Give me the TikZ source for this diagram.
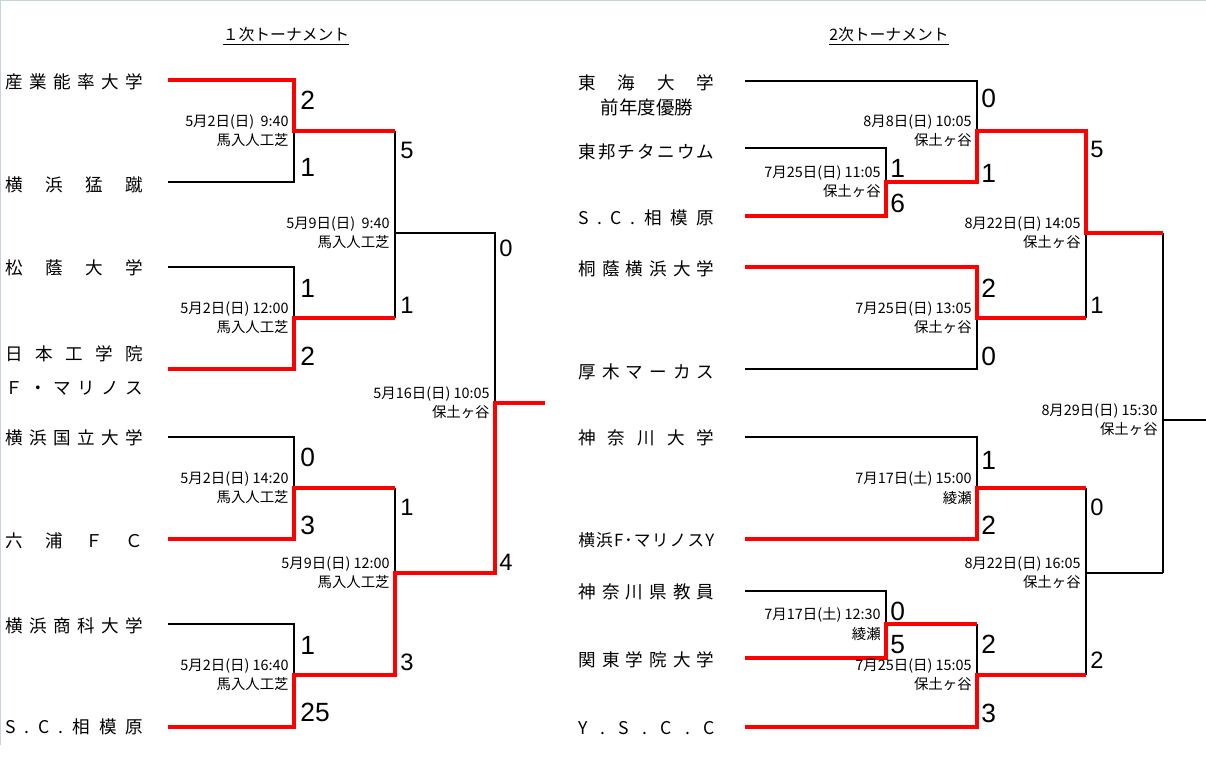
\documentclass[tikz,border=0pt]{standalone}
\usepackage{fontspec}
\setmainfont{Noto Sans CJK JP}
\newfontfamily\scorefont{Liberation Sans}
\usepackage{tikz}
\usetikzlibrary{calc}
\definecolor{framegray}{HTML}{C9D3E0}
\tikzset{lose/.style={draw, black, line width=0.6pt},
win/.style={draw, red, line width=1.9pt, line join=miter},
team/.style={anchor=west, inner sep=0pt, font=\fontsize{10}{12}\selectfont},
score/.style={anchor=west, inner sep=0pt, font=\scorefont\fontsize{13.5}{14}\selectfont},
bigscore/.style={anchor=west, inner sep=0pt, font=\scorefont\fontsize{15}{16}\selectfont},
when/.style={anchor=east, inner sep=0pt, align=right, xshift=-0.1cm, font=\fontsize{8.2}{11}\selectfont},
title/.style={inner sep=0pt, font=\fontsize{9}{10}\selectfont}}
\newcommand{\spread}[2][2.76cm]{\makebox[#1][s]{\spaceskip=0pt plus 1fil\relax #2}}

\begin{document}
\begin{tikzpicture}[x=0.02cm, y=-0.02cm]
    \useasboundingbox (0,0) rectangle (1206,765);
    % sheet frame
    \draw[framegray, line width=1pt] (0,0.5) -- (1206,0.5) (0.5,0) -- (0.5,745);

    % Titles
    \node[title] (title1) at (286,36) {\underline{１次トーナメント}};
    \node[title] (title2) at (889,36) {\underline{2次トーナメント}};

    % Teams of the first tournament
    \node[team] (t1) at (5,82) {\spread{産 業 能 率 大 学}};
    \node[team] (t2) at (5,185) {\spread{横 浜 猛 蹴}};
    \node[team] (t3) at (5,268) {\spread{松 蔭 大 学}};
    \node[team] (t4) at (5,354) {\spread{日 本 工 学 院}};
    \node[team] (t4b) at (5,388) {\spread{Ｆ ・ マ リ ノ ス}};
    \node[team] (t5) at (5,438) {\spread{横 浜 国 立 大 学}};
    \node[team] (t6) at (5,541) {\spread{六 浦 Ｆ Ｃ}};
    \node[team] (t7) at (5,626) {\spread{横 浜 商 科 大 学}};
    \node[team] (t8) at (5,727) {\spread{S . C . 相 模 原}};

    % Teams of the second tournament
    \node[team] (u1) at (578,83) {\spread[2.72cm]{東 海 大 学}};
    \node[team, anchor=center, font=\fontsize{10.5}{12}\selectfont] (champ) at (647,107) {前年度優勝};
    \node[team] (u2) at (578,152) {\spread[2.72cm]{東 邦 チ タ ニ ウ ム}};
    \node[team] (u3) at (578,218) {\spread[2.72cm]{S . C . 相 模 原}};
    \node[team] (u4) at (578,269) {\spread[2.72cm]{桐 蔭 横 浜 大 学}};
    \node[team] (u5) at (578,372) {\spread[2.72cm]{厚 木 マ ー カ ス}};
    \node[team] (u6) at (578,438) {\spread[2.72cm]{神 奈 川 大 学}};
    \node[team, font=\fontsize{9.5}{12}\selectfont] (u7) at (578,540) {\spread[2.72cm]{横 浜 F ･ マ リ ノ ス Y}};
    \node[team] (u8) at (578,592) {\spread[2.72cm]{神 奈 川 県 教 員}};
    \node[team] (u9) at (578,660) {\spread[2.72cm]{関 東 学 院 大 学}};
    \node[team] (u10) at (578,728) {\spread[2.72cm]{Y . S . C . C}};

    % Line ends and junctions, first tournament
    \foreach \i/\y in {1/80, 2/182, 3/267, 4/369, 5/437, 6/539, 7/624, 8/727}
        \coordinate (s\i) at (168,\y);
    \coordinate (m1) at (294,131);
    \coordinate (m2) at (294,318);
    \coordinate (m3) at (294,488);
    \coordinate (m4) at (294,675);
    \coordinate (n1) at (395,233);
    \coordinate (n2) at (395,573);
    \coordinate (f) at (495,403);
    \coordinate (fend) at (545,403);

    % Line ends and junctions, second tournament
    \foreach \i/\y in {1/81, 2/148, 3/216, 4/267, 5/369, 6/437, 7/539, 8/591, 9/658, 10/727}
        \coordinate (v\i) at (745,\y);
    \coordinate (p1) at (886,182);
    \coordinate (p2) at (886,624);
    \coordinate (q1) at (977,131);
    \coordinate (q2) at (977,318);
    \coordinate (q3) at (977,488);
    \coordinate (q4) at (977,675);
    \coordinate (r1) at (1086,233);
    \coordinate (r2) at (1086,573);
    \coordinate (g) at (1163,420);
    \coordinate (gend) at (1206,420);

    % Losers first
    \draw[lose] (s2) -| (m1);
    \draw[lose] (s3) -| (m2);
    \draw[lose] (s5) -| (m3);
    \draw[lose] (s7) -| (m4);
    \draw[lose] (m1 -| n1) -- (m2 -| n1);
    \draw[lose] (m3 -| n2) -- (n2);
    \draw[lose] (n1) -- (n1 -| f) -- (f);
    \draw[lose] (v1) -| (q1);
    \draw[lose] (v2) -| (p1);
    \draw[lose] (v5) -| (q2);
    \draw[lose] (v6) -| (q3);
    \draw[lose] (v8) -| (p2);
    \draw[lose] (p2 -| q4) -- (q4);
    \draw[lose] (r1) -- (q2 -| r1);
    \draw[lose] (q3 -| r2) -- (q4 -| r2);
    \draw[lose] (r1 -| g) -- (r2 -| g);
    \draw[lose] (r2) -- (r2 -| g);
    \draw[lose] (g) -- (gend);

    % Winners in red
    \draw[win] (s1) -| (m1) -- (m1 -| n1);
    \draw[win] (s4) -| (m2) -- (m2 -| n1);
    \draw[win] (s6) -| (m3) -- (m3 -| n2);
    \draw[win] (s8) -| (m4) -- (m4 -| n2) -- (n2) -- (n2 -| f) -- (f) -- (fend);
    \draw[win] (v3) -| (p1) -- (p1 -| q1) -- (q1) -- (q1 -| r1) -- (r1) -- (r1 -| g);
    \draw[win] (v4) -| (q2) -- (q2 -| r1);
    \draw[win] (v7) -| (q3) -- (q3 -| r2);
    \draw[win] (v9) -| (p2) -- (p2 -| q4);
    \draw[win] (v10) -| (q4) -- (q4 -| r2);

    % Dates and grounds
    \node[when] (w1) at (m1) {5月2日(日)\ \ 9:40\\馬入人工芝};
    \node[when] (w2) at (m2) {5月2日(日)\ 12:00\\馬入人工芝};
    \node[when] (w3) at (m3) {5月2日(日)\ 14:20\\馬入人工芝};
    \node[when] (w4) at (m4) {5月2日(日)\ 16:40\\馬入人工芝};
    \node[when] (w5) at (n1) {5月9日(日)\ \ 9:40\\馬入人工芝};
    \node[when] (w6) at (n2) {5月9日(日)\ 12:00\\馬入人工芝};
    \node[when] (w7) at (f) {5月16日(日)\ 10:05\\保土ヶ谷};
    \node[when] (x1) at (q1) {8月8日(日)\ 10:05\\保土ヶ谷};
    \node[when] (x2) at (p1) {7月25日(日)\ 11:05\\保土ヶ谷};
    \node[when] (x3) at (q2) {7月25日(日)\ 13:05\\保土ヶ谷};
    \node[when] (x4) at (r1) {8月22日(日)\ 14:05\\保土ヶ谷};
    \node[when] (x5) at (q3) {7月17日(土)\ 15:00\\綾瀬};
    \node[when] (x6) at (p2) {7月17日(土)\ 12:30\\綾瀬};
    \node[when] (x7) at (q4) {7月25日(日)\ 15:05\\保土ヶ谷};
    \node[when] (x8) at (r2) {8月22日(日)\ 16:05\\保土ヶ谷};
    \node[when] (x9) at (g) {8月29日(日)\ 15:30\\保土ヶ谷};

    % Scores
    \foreach \y/\s [count=\k] in {100/2, 167/1, 288/1, 356/2, 457/0, 525/3, 645/1, 712/25}
        \node[bigscore] (a\k) at (300,\y) {\s};
    \foreach \y/\s [count=\k] in {150/5, 305/1, 507/1, 662/3}
        \node[score] (b\k) at (400,\y) {\s};
    \node[score] (c1) at (499,248) {0};
    \node[score] (c2) at (499,562) {4};
    \foreach \y/\s [count=\k] in {168/1, 203/6, 611/0, 645/5}
        \node[bigscore] (d\k) at (890,\y) {\s};
    \foreach \y/\s [count=\k] in {98/0, 173/1, 288/2, 356/0, 460/1, 525/2, 644/2, 713/3}
        \node[bigscore] (e\k) at (981,\y) {\s};
    \foreach \y/\s [count=\k] in {149/5, 305/1, 507/0, 660/2}
        \node[score] (h\k) at (1090,\y) {\s};
\end{tikzpicture}
\end{document}
